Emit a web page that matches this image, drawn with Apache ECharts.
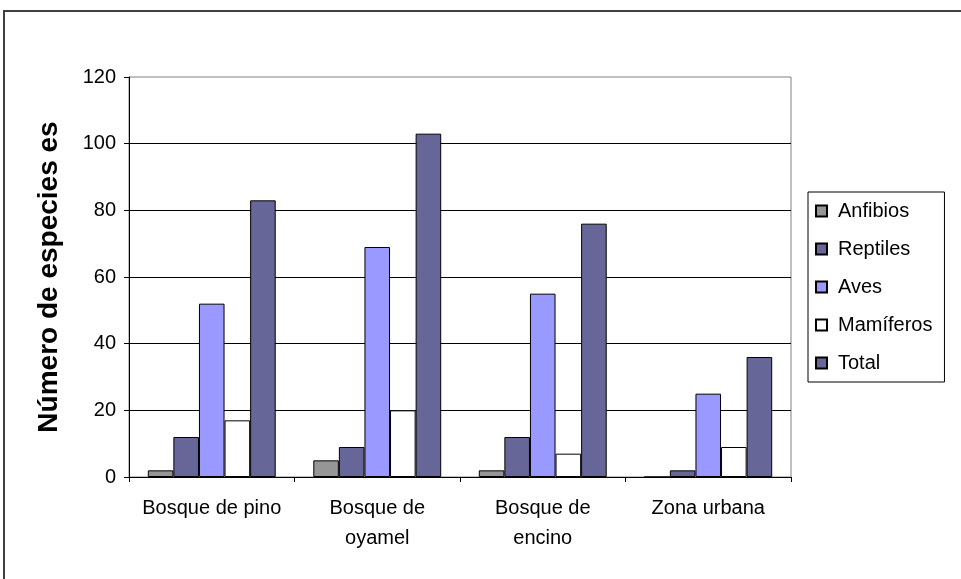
<!DOCTYPE html>
<html>
<head>
<meta charset="utf-8">
<script src="https://cdn.jsdelivr.net/npm/echarts@6/dist/echarts.min.js"></script>
<style>
  html, body { margin: 0; padding: 0; background: #fff; }
  #chart { width: 961px; height: 579px; }
</style>
</head>
<body>
<div id="chart"></div>
<script>
// Species counts per habitat type
const categories = ['Bosque de pino', 'Bosque de\noyamel', 'Bosque de\nencino', 'Zona urbana'];
const seriesNames = ['Anfibios', 'Reptiles', 'Aves', 'Mamíferos', 'Total'];
const anfibios  = [2, 5, 2, 0];
const reptiles  = [12, 9, 12, 2];
const aves      = [52, 69, 55, 25];
const mamiferos = [17, 20, 7, 9];
const total     = [83, 103, 76, 36];
const yTicks = [0, 20, 40, 60, 80, 100, 120];

const FONT = "'Liberation Sans', Arial, sans-serif";
const colors = ['#969696', '#666699', '#9999FF', '#FFFFFF', '#666699'];
const values = [anfibios, reptiles, aves, mamiferos, total];

const chart = echarts.init(document.getElementById('chart'), null, { renderer: 'canvas' });

const option = {
  animation: false,
  backgroundColor: '#fff',
  textStyle: { fontFamily: FONT },
  graphic: [{
    type: 'rect',
    shape: { x: 4, y: 11, width: 1100, height: 1000 },
    style: { fill: 'none', stroke: '#404040', lineWidth: 2 },
    silent: true,
    z: -1
  }],
  grid: {
    left: 129, top: 77, width: 662, height: 400,
    show: true, borderColor: '#808080', borderWidth: 1,
    backgroundColor: 'transparent',
    containLabel: false
  },
  legend: {
    orient: 'vertical',
    left: 808, top: 192,
    padding: [9, 12, 9, 7],
    itemGap: 18,
    itemWidth: 11, itemHeight: 11,
    icon: 'rect',
    borderColor: '#000', borderWidth: 1,
    data: seriesNames,
    textStyle: { fontFamily: FONT, fontSize: 20, color: '#000', lineHeight: 20, padding: [0, 0, 0, 6] }
  },
  xAxis: {
    type: 'category',
    data: categories,
    axisLine: { show: true, lineStyle: { color: '#000', width: 1 } },
    axisTick: { show: true, length: 5, lineStyle: { color: '#000' } },
    axisLabel: { fontFamily: FONT, fontSize: 20, color: '#000', lineHeight: 30, margin: 16, interval: 0 },
    splitLine: { show: false }
  },
  yAxis: {
    type: 'value',
    min: yTicks[0], max: yTicks[yTicks.length - 1], interval: 20,
    name: 'Número de especies es',
    nameLocation: 'middle',
    nameGap: 66,
    nameTextStyle: { fontFamily: FONT, fontSize: 28, fontWeight: 'bold', color: '#000' },
    axisLine: { show: true, lineStyle: { color: '#000', width: 1 } },
    axisTick: { show: true, length: 5, lineStyle: { color: '#000' } },
    axisLabel: { fontFamily: FONT, fontSize: 20, color: '#000', margin: 13 },
    splitLine: { show: true, showMaxLine: false, lineStyle: { color: '#000', width: 1 } }
  },
  series: seriesNames.map((name, i) => ({
    name: name,
    type: 'bar',
    data: values[i],
    barGap: '0%',
    barCategoryGap: '22.7%',
    itemStyle: { color: colors[i], borderColor: '#000', borderWidth: 1 }
  }))
};

chart.setOption(option);
</script>
</body>
</html>
